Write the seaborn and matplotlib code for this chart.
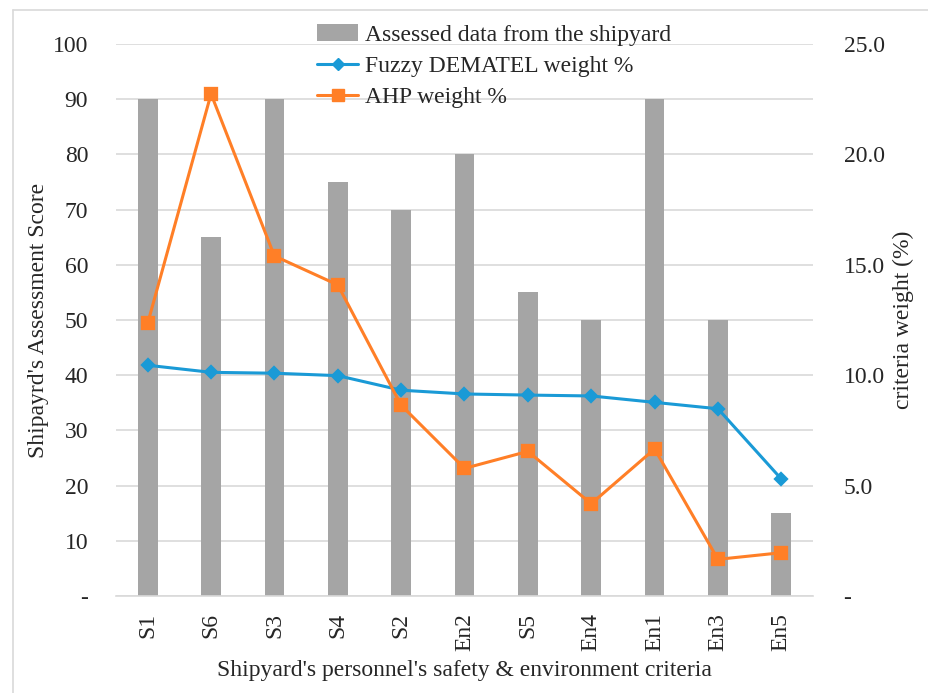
import matplotlib
matplotlib.use("Agg")
import matplotlib.pyplot as plt
import seaborn as sns
import pandas as pd
from matplotlib.lines import Line2D
from matplotlib.patches import Patch

categories = ["S1", "S6", "S3", "S4", "S2", "En2", "S5", "En4", "En1", "En3", "En5"]
assessed = [90, 65, 90, 75, 70, 80, 55, 50, 90, 50, 15]
fuzzy_dematel = [10.45, 10.13, 10.09, 9.98, 9.32, 9.15, 9.10, 9.06, 8.77, 8.48, 5.30]
ahp = [12.35, 22.74, 15.40, 14.09, 8.64, 5.78, 6.55, 4.18, 6.66, 1.66, 1.96]
left_ticks = [0, 10, 20, 30, 40, 50, 60, 70, 80, 90, 100]
left_labels = ["-", "10", "20", "30", "40", "50", "60", "70", "80", "90", "100"]
right_ticks = [0, 5, 10, 15, 20, 25]
right_labels = ["-", "5.0", "10.0", "15.0", "20.0", "25.0"]

df = pd.DataFrame({"crit": categories, "assessed": assessed,
                   "fuzzy": fuzzy_dematel, "ahp": ahp})

sns.set_theme(style="white")
plt.rcParams["font.family"] = ["Liberation Serif", "DejaVu Serif"]

BAR = "#A5A5A5"
BLUE = "#1A9AD6"
ORANGE = "#FF7F27"
GRID = "#D9D9D9"
FS = 17

fig = plt.figure(figsize=(9.29, 6.93), dpi=100)
ax = fig.add_axes([116/929, 1-596/693, (813-116)/929, (596-44)/693])

sns.barplot(data=df, x="crit", y="assessed", color=BAR, width=0.31,
            saturation=1, linewidth=0, ax=ax, zorder=2)
ax.set_ylim(0, 100)
ax.set_xlim(-0.5, len(categories) - 0.5)
ax.set_yticks(left_ticks)
ax.set_yticklabels(left_labels, fontsize=FS)
ax.yaxis.grid(True, color=GRID, linewidth=1.2, zorder=0)
ax.set_axisbelow(True)
ax.tick_params(axis="y", length=0, pad=20)
ax.tick_params(axis="x", which="major", length=0, pad=12, labelsize=FS, labelrotation=90)
ax.set_xticks([i - 0.5 for i in range(len(categories) + 1)], minor=True)
ax.tick_params(axis="x", which="minor", length=6, color=GRID, width=1.2)
for s in ["top", "right", "left"]:
    ax.spines[s].set_visible(False)
ax.spines["bottom"].set_color(GRID)
ax.spines["bottom"].set_linewidth(1.2)
ax.set_xlabel("Shipyard's personnel's safety & environment criteria", fontsize=FS, labelpad=7)
ax.set_ylabel("Shipayrd's Assessment Score", fontsize=FS, labelpad=3)

ax2 = ax.twinx()
sns.pointplot(data=df, x="crit", y="fuzzy", color=BLUE, markers="D",
              markersize=6, linewidth=2.2, ax=ax2)
sns.pointplot(data=df, x="crit", y="ahp", color=ORANGE, markers="s",
              markersize=8, linewidth=2.2, ax=ax2)
ax2.set_ylim(0, 25)
ax2.set_xlim(-0.5, len(categories) - 0.5)
ax2.set_yticks(right_ticks)
ax2.set_yticklabels(right_labels, fontsize=FS)
ax2.tick_params(axis="y", length=0, pad=22)
for s in ["top", "right", "left", "bottom"]:
    ax2.spines[s].set_visible(False)
ax2.set_ylabel("criteria weight (%)", fontsize=FS, labelpad=6)
ax2.grid(False)

handles = [Patch(facecolor=BAR, edgecolor="none"),
           Line2D([0], [0], color=BLUE, lw=2.2, marker="D", markersize=6),
           Line2D([0], [0], color=ORANGE, lw=2.2, marker="s", markersize=8)]
labels = ["Assessed data from the shipyard", "Fuzzy DEMATEL weight %", "AHP weight %"]
fig.legend(handles, labels, loc="upper left", bbox_to_anchor=(308/929, 1-15/693),
           frameon=False, fontsize=FS, handlelength=1.7, handletextpad=0.3,
           labelspacing=0.4, borderaxespad=0)

fig.add_artist(Line2D([13/929, 1], [1-10/693, 1-10/693], color=GRID, lw=1.2,
                      transform=fig.transFigure))
fig.add_artist(Line2D([13/929, 13/929], [0, 1-10/693], color=GRID, lw=1.2,
                      transform=fig.transFigure))

fig.savefig("out.png", dpi=100)
